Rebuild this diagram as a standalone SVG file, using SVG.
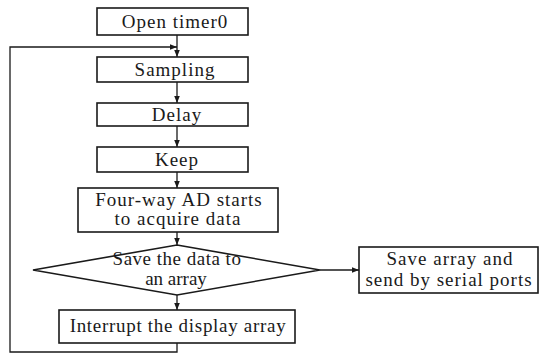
<svg xmlns="http://www.w3.org/2000/svg" width="539" height="354" viewBox="0 0 539 354">
<defs>
<marker id="ah" viewBox="0 0 10 10" refX="10" refY="5" markerWidth="7" markerHeight="7" markerUnits="userSpaceOnUse" orient="auto">
<path d="M0,1 L10,5 L0,9 Z" fill="#1a1a1a"/>
</marker>
</defs>
<style>
.box{fill:#fff;stroke:#1a1a1a;stroke-width:1.6}
.t{font-size:19px;fill:#1a1a1a;text-anchor:middle;letter-spacing:1px}
.c{fill:none;stroke:#1a1a1a;stroke-width:1.3}
</style>
<rect width="539" height="354" fill="#fff"/>
<g id="connectors">
<line class="c" x1="177" y1="35" x2="177" y2="57" marker-end="url(#ah)"/>
<polyline class="c" points="177,343 177,352 10,352 10,47 177,47" marker-end="url(#ah)"/>
<line class="c" x1="177" y1="82" x2="177" y2="103" marker-end="url(#ah)"/>
<line class="c" x1="177" y1="126" x2="177" y2="147" marker-end="url(#ah)"/>
<line class="c" x1="177" y1="172" x2="177" y2="188" marker-end="url(#ah)"/>
<line class="c" x1="177" y1="232" x2="177" y2="245" marker-end="url(#ah)"/>
<line class="c" x1="177" y1="295" x2="177" y2="310" marker-end="url(#ah)"/>
<line class="c" x1="320" y1="270" x2="359" y2="270" marker-end="url(#ah)"/>
</g>
<g font-family="'Liberation Serif', 'DejaVu Serif', serif">
<g id="open"><rect class="box" x="97" y="8" width="151" height="27"/><text class="t" x="175" y="28">Open timer0</text></g>
<g id="sampling"><rect class="box" x="97" y="57" width="151" height="25"/><text class="t" x="175" y="76">Sampling</text></g>
<g id="delay"><rect class="box" x="97" y="103" width="151" height="23"/><text class="t" x="177" y="121">Delay</text></g>
<g id="keep"><rect class="box" x="97" y="147" width="151" height="25"/><text class="t" x="177" y="166">Keep</text></g>
<g id="fourway"><rect class="box" x="78" y="188" width="200" height="44"/><text class="t" x="179" y="206">Four-way AD starts</text><text class="t" x="178" y="225">to acquire data</text></g>
<g id="save"><polygon class="box" points="177,245 320,270 177,295 33,270"/><text class="t" x="177" y="265" style="letter-spacing:0.5px">Save the data to</text><text class="t" x="176" y="285" style="letter-spacing:0">an array</text></g>
<g id="interrupt"><rect class="box" x="59" y="310" width="236" height="33"/><text class="t" x="178" y="332" style="letter-spacing:0.7px">Interrupt the display array</text></g>
<g id="send"><rect class="box" x="359" y="247" width="179" height="46"/><text class="t" x="450" y="265">Save array and</text><text class="t" x="449" y="286">send by serial ports</text></g>
</g>
</svg>
